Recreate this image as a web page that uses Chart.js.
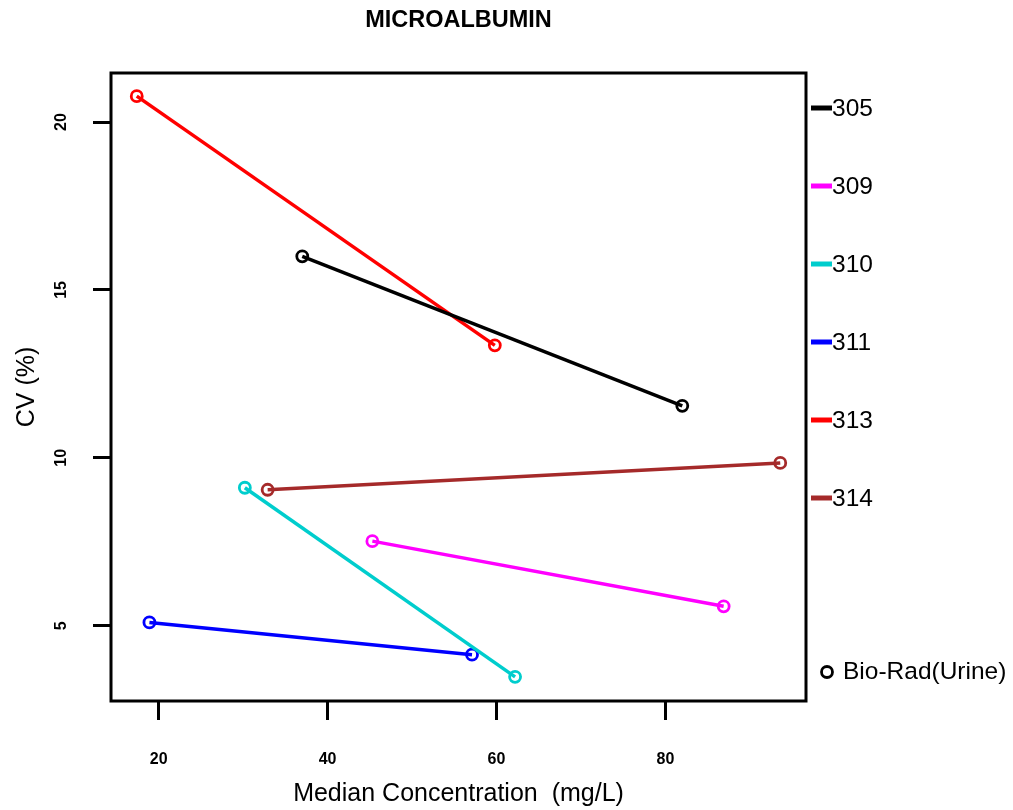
<!DOCTYPE html>
<html>
<head>
<meta charset="utf-8">
<title>MICROALBUMIN</title>
<script src="https://cdn.jsdelivr.net/npm/chart.js@4/dist/chart.umd.min.js"></script>
<style>
  html, body { margin: 0; padding: 0; background: #ffffff; }
  #wrap { width: 1013px; height: 810px; position: relative; }
</style>
</head>
<body>
<div id="wrap"><canvas id="chart" width="1013" height="810"></canvas></div>
<script>
// Instrument codes and colours
const instruments = ['305', '309', '310', '311', '313', '314'];
const colors = ['#000000', '#FF00FF', '#00CDCD', '#0000FF', '#FF0000', '#A52A2A'];

// Median concentration (mg/L) per instrument, two control levels each
const conc305 = [37.0, 82.0];
const conc309 = [45.3, 86.9];
const conc310 = [30.2, 62.2];
const conc311 = [18.9, 57.1];
const conc313 = [17.4, 59.8];
const conc314 = [32.9, 93.6];

// CV (%) per instrument
const cv305 = [16.0, 11.55];
const cv309 = [7.52, 5.58];
const cv310 = [9.11, 3.48];
const cv311 = [5.1, 4.14];
const cv313 = [20.77, 13.35];
const cv314 = [9.05, 9.85];

// Axis ticks
const xTicks = [20, 40, 60, 80];
const yTicks = [5, 10, 15, 20];

const concSeries = [conc305, conc309, conc310, conc311, conc313, conc314];
const cvSeries = [cv305, cv309, cv310, cv311, cv313, cv314];

const FONT = "'Liberation Sans', Arial, Helvetica, sans-serif";

const datasets = instruments.map((name, i) => ({
  label: name,
  data: concSeries[i].map((x, j) => ({ x: x, y: cvSeries[i][j] })),
  borderColor: colors[i],
  backgroundColor: colors[i],
  borderWidth: 3.5,
  pointRadius: 5.5,
  pointBorderWidth: 2.8,
  pointBackgroundColor: 'rgba(0,0,0,0)',
  pointBorderColor: colors[i],
  pointStyle: 'circle',
  showLine: true,
  tension: 0
}));

// Frame, titles, rotated y tick labels and the side legend
const decorations = {
  id: 'decorations',
  afterDraw(chart) {
    const ctx = chart.ctx;
    const a = chart.chartArea;
    const xs = chart.scales.x;
    const ys = chart.scales.y;
    ctx.save();

    // plot frame
    ctx.strokeStyle = '#000';
    ctx.lineWidth = 3;
    ctx.strokeRect(a.left, a.top, a.right - a.left, a.bottom - a.top);

    // main title
    ctx.fillStyle = '#000';
    ctx.font = 'bold 23.5px ' + FONT;
    ctx.textAlign = 'center';
    ctx.textBaseline = 'middle';
    ctx.fillText('MICROALBUMIN', (a.left + a.right) / 2, 21);

    // x tick labels
    ctx.font = 'bold 16px ' + FONT;
    xs.ticks.forEach(t => {
      ctx.fillText(String(t.value), xs.getPixelForValue(t.value), 760);
    });

    // y tick labels, rotated
    ys.ticks.forEach(t => {
      ctx.save();
      ctx.translate(62, ys.getPixelForValue(t.value));
      ctx.rotate(-Math.PI / 2);
      ctx.fillText(String(t.value), 0, 0);
      ctx.restore();
    });

    // axis titles
    ctx.font = '25px ' + FONT;
    ctx.fillText('Median Concentration  (mg/L)', (a.left + a.right) / 2, 794);
    ctx.save();
    ctx.translate(27, (a.top + a.bottom) / 2);
    ctx.rotate(-Math.PI / 2);
    ctx.fillText('CV (%)', 0, 0);
    ctx.restore();

    // legend
    ctx.textAlign = 'left';
    ctx.font = '24.5px ' + FONT;
    instruments.forEach((name, i) => {
      const y = 108 + i * 78;
      ctx.strokeStyle = colors[i];
      ctx.lineWidth = 5;
      ctx.beginPath();
      ctx.moveTo(811, y);
      ctx.lineTo(832, y);
      ctx.stroke();
      ctx.fillStyle = '#000';
      ctx.fillText(name, 832, y + 1);
    });
    ctx.strokeStyle = '#000';
    ctx.lineWidth = 2.8;
    ctx.beginPath();
    ctx.arc(827, 672, 5.5, 0, Math.PI * 2);
    ctx.stroke();
    ctx.fillText('Bio-Rad(Urine)', 843, 672);

    ctx.restore();
  }
};

new Chart(document.getElementById('chart'), {
  type: 'line',
  data: { datasets: datasets },
  options: {
    responsive: false,
    animation: false,
    devicePixelRatio: 1,
    layout: { padding: { top: 73, right: 207, left: 0, bottom: 0 } },
    plugins: {
      legend: { display: false },
      title: { display: false },
      tooltip: { enabled: false }
    },
    scales: {
      x: {
        type: 'linear',
        position: 'bottom',
        min: 14.35,
        max: 96.65,
        afterFit(s) { s.height = 109; },
        afterBuildTicks(s) { s.ticks = xTicks.map(v => ({ value: v })); },
        border: { display: false },
        grid: { drawOnChartArea: false, drawTicks: true, tickLength: 19, color: '#000', lineWidth: 3 },
        ticks: { display: false }
      },
      y: {
        type: 'linear',
        position: 'left',
        min: 2.76,
        max: 21.46,
        afterFit(s) { s.width = 111; },
        afterBuildTicks(s) { s.ticks = yTicks.map(v => ({ value: v })); },
        border: { display: false },
        grid: { drawOnChartArea: false, drawTicks: true, tickLength: 18, color: '#000', lineWidth: 3 },
        ticks: { display: false }
      }
    }
  },
  plugins: [decorations]
});
</script>
</body>
</html>
